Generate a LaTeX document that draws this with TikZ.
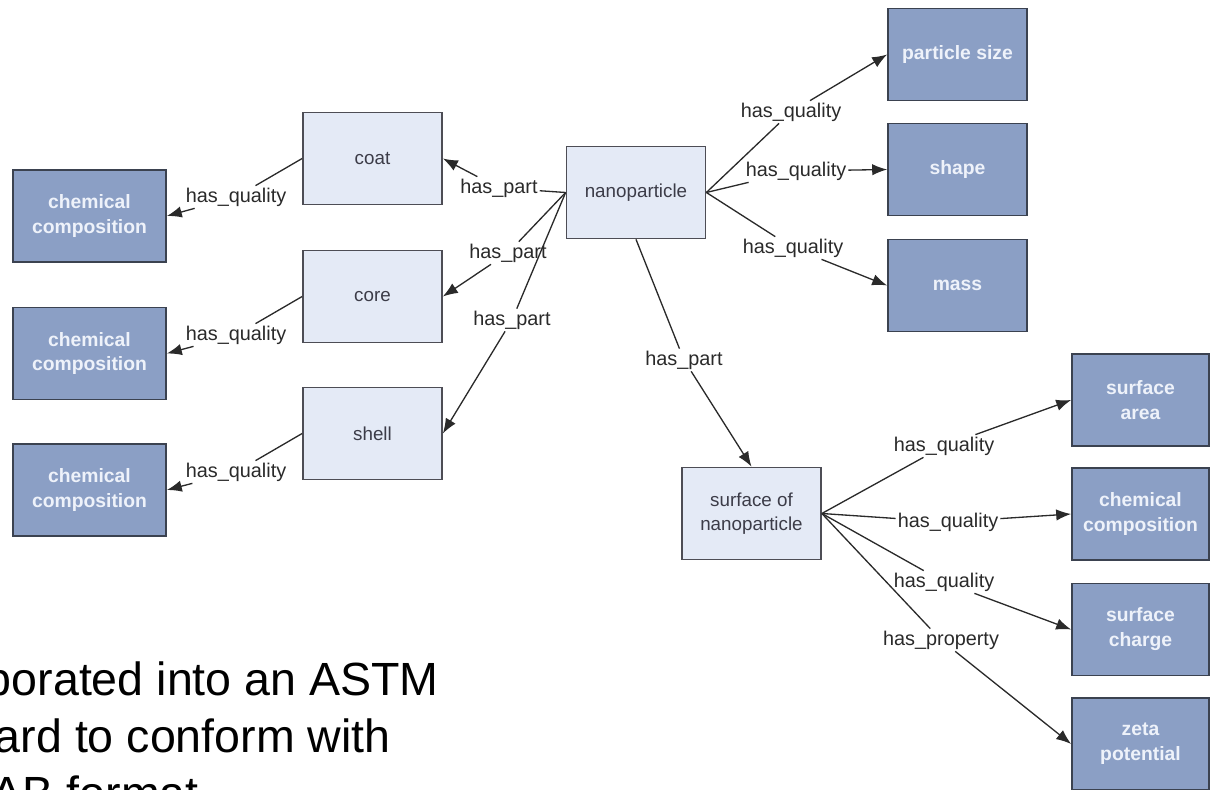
\documentclass[tikz,border=0pt]{standalone}
\usepackage{fontspec}
\setmainfont{Liberation Sans}
\usepackage{xcolor}
\usepackage{tikz}
\usetikzlibrary{arrows.meta}

\definecolor{partfill}{HTML}{E4EAF6}
\definecolor{partedge}{HTML}{4D4D55}
\definecolor{parttext}{HTML}{3C3C48}
\definecolor{qualfill}{HTML}{8B9FC5}
\definecolor{qualedge}{HTML}{3B4250}
\definecolor{qualtext}{HTML}{EEF2FA}
\definecolor{linkcol}{HTML}{2A2A2A}

\begin{document}
\begin{tikzpicture}[x=0.02cm, y=-0.02cm,
	partbox/.style={draw=partedge, fill=partfill, line width=1pt,
		minimum width=2.78cm, minimum height=1.84cm, align=center,
		text=parttext, font=\fontsize{10.7}{13.7}\selectfont},
	qualbox/.style={draw=qualedge, fill=qualfill, line width=1pt,
		minimum width=2.78cm, minimum height=1.84cm, align=center,
		text=qualtext, font=\bfseries\fontsize{11}{14.2}\selectfont},
	rel/.style={inner sep=1pt, text=linkcol, font=\fontsize{11.3}{13}\selectfont},
	link/.style={draw=linkcol, line width=0.75pt},
	tolink/.style={link, -{Latex[length=8.5pt,width=6.5pt]}}]
	\useasboundingbox (0,0) rectangle (1211,790);
	\clip (0,0) rectangle (1211,790);

	% boxes
	\node[qualbox, minimum width=3.06cm] (chemA) at (89.5,216) {chemical\\composition};
	\node[qualbox, minimum width=3.06cm] (chemB) at (89.5,353.5) {chemical\\composition};
	\node[qualbox, minimum width=3.06cm] (chemC) at (89.5,490) {chemical\\composition};
	\node[partbox] (coat) at (372.5,158.5) {coat};
	\node[partbox] (core) at (372.5,296.5) {core};
	\node[partbox] (shell) at (372.5,433.5) {shell};
	\node[partbox] (nano) at (636,192.5) {nanoparticle};
	\node[qualbox] (size) at (957.5,54.5) {particle size};
	\node[qualbox] (shape) at (957.5,169.5) {shape};
	\node[qualbox] (mass) at (957.5,285.5) {mass};
	\node[partbox] (surf) at (751.5,513.5) {surface of\\nanoparticle};
	\node[qualbox, minimum width=2.74cm] (area) at (1140.5,400) {surface\\area};
	\node[qualbox, minimum width=2.74cm] (chemD) at (1140.5,514) {chemical\\composition};
	\node[qualbox, minimum width=2.74cm] (charge) at (1140.5,629.5) {surface\\charge};
	\node[qualbox, minimum width=2.74cm] (zeta) at (1140.5,744) {zeta\\potential};

	% relation labels
	\node[rel] (qcoat) at (236,197) {has\_quality};
	\node[rel] (qcore) at (236,335) {has\_quality};
	\node[rel] (qshell) at (236,472) {has\_quality};
	\node[rel] (pcoat) at (499,188) {has\_part};
	\node[rel] (pcore) at (508,253) {has\_part};
	\node[rel] (pshell) at (512,320) {has\_part};
	\node[rel] (psurf) at (684,360) {has\_part};
	\node[rel] (qsize) at (791,112) {has\_quality};
	\node[rel] (qshape) at (796,171) {has\_quality};
	\node[rel] (qmass) at (793,248) {has\_quality};
	\node[rel] (qarea) at (944,446) {has\_quality};
	\node[rel] (qchem) at (948,522) {has\_quality};
	\node[rel] (qcharge) at (944,582) {has\_quality};
	\node[rel] (pzeta) at (941,640) {has\_property};

	% connectors
	\draw[link] (coat.west) -- (qcoat);
	\draw[tolink] (qcoat) -- (chemA.east);
	\draw[link] (core.west) -- (qcore);
	\draw[tolink] (qcore) -- (chemB.east);
	\draw[link] (shell.west) -- (qshell);
	\draw[tolink] (qshell) -- (chemC.east);
	\draw[link] (nano.west) -- (pcoat);
	\draw[tolink] (pcoat) -- (coat.east);
	\draw[link] (nano.west) -- (pcore);
	\draw[tolink] (pcore) -- (core.east);
	\draw[link] (nano.west) -- (pshell);
	\draw[tolink] (pshell) -- (shell.east);
	\draw[link] (nano.south) -- (psurf);
	\draw[tolink] (psurf) -- (surf.north);
	\draw[link] (nano.east) -- (qsize);
	\draw[tolink] (qsize) -- (size.west);
	\draw[link] (nano.east) -- (qshape);
	\draw[tolink] (qshape) -- (shape.west);
	\draw[link] (nano.east) -- (qmass);
	\draw[tolink] (qmass) -- (mass.west);
	\draw[link] (surf.east) -- (qarea);
	\draw[tolink] (qarea) -- (area.west);
	\draw[link] (surf.east) -- (qchem);
	\draw[tolink] (qchem) -- (chemD.west);
	\draw[link] (surf.east) -- (qcharge);
	\draw[tolink] (qcharge) -- (charge.west);
	\draw[link] (surf.east) -- (pzeta);
	\draw[tolink] (pzeta) -- (zeta.west);

	% slide text
	\node[anchor=base east, font=\fontsize{26.5}{32}\selectfont] (lineA) at (445,695) {porated into an ASTM};
	\node[anchor=base east, font=\fontsize{26.5}{32}\selectfont] (lineB) at (397,752) {ard to conform with};
	\node[anchor=base east, font=\fontsize{26.5}{32}\selectfont] (lineC) at (205,809) {AB format};
\end{tikzpicture}
\end{document}
